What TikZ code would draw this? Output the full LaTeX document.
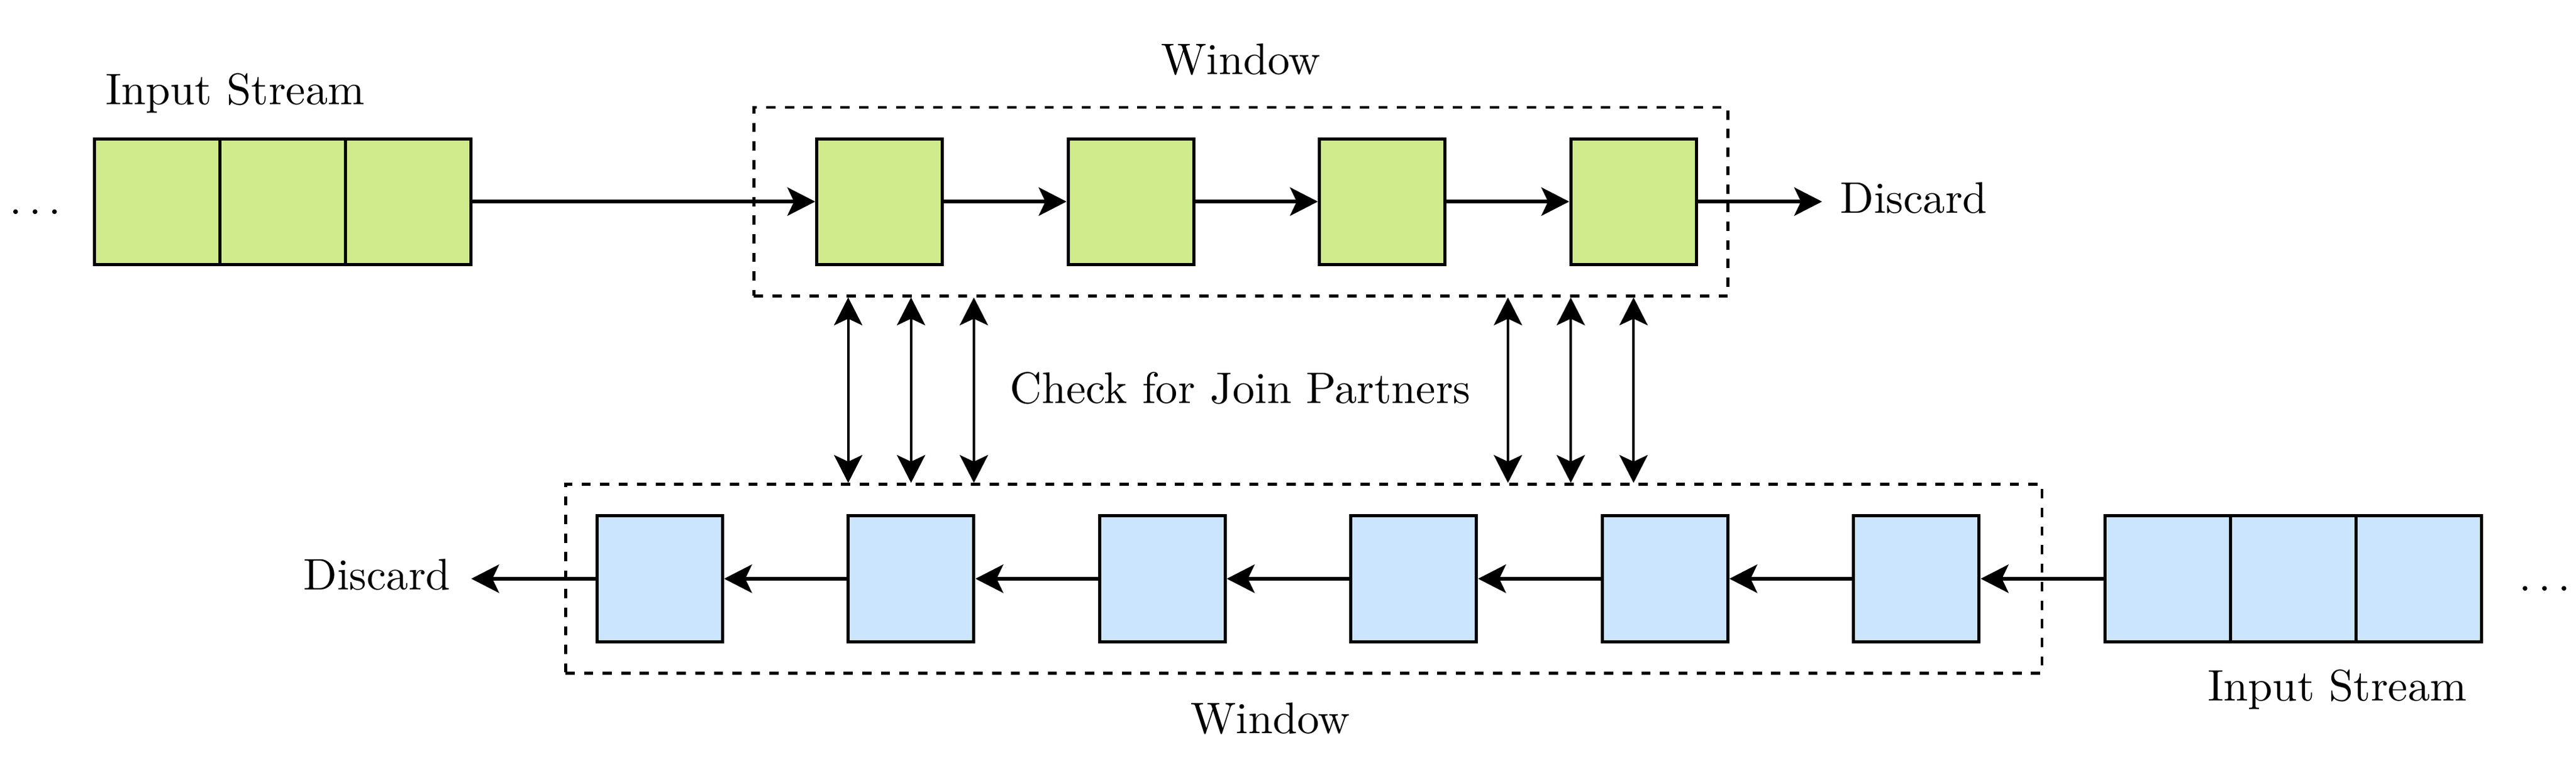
\documentclass[tikz,border=0pt]{standalone}
\usetikzlibrary{arrows.meta}
\definecolor{gfill}{RGB}{207,235,139}
\definecolor{bfill}{RGB}{204,229,255}
\tikzset{
  cell/.style={draw, line width=0.7pt, minimum size=1cm, inner sep=0pt},
  gcell/.style={cell, fill=gfill},
  bcell/.style={cell, fill=bfill},
  tipstyle/.tip={Stealth[length=6.3pt,width=6.4pt,inset=1.5pt]},
  flow/.style={line width=0.8pt, -tipstyle},
  probe/.style={line width=0.6pt, tipstyle-tipstyle},
  winbox/.style={draw, line width=0.7pt, dash pattern=on 2.1pt off 2.1pt, inner sep=0pt},
  lbl/.style={inner sep=0pt, anchor=base},
}
\begin{document}
\begin{tikzpicture}
\useasboundingbox (0,-1.589) rectangle (20.5,4.604);
% windows
\node[winbox, minimum width=7.75cm, minimum height=1.5cm] (wa) at (9.875,3) {};
\node[winbox, minimum width=11.75cm, minimum height=1.5cm] (wb) at (10.375,0) {};
% top input stream
\node[gcell] (s1) at (1.25,3) {};
\node[gcell] (s2) at (2.25,3) {};
\node[gcell] (s3) at (3.25,3) {};
% top window cells
\node[gcell] (g1) at (7,3) {};
\node[gcell] (g2) at (9,3) {};
\node[gcell] (g3) at (11,3) {};
\node[gcell] (g4) at (13,3) {};
% bottom window cells
\node[bcell] (b1) at (5.25,0) {};
\node[bcell] (b2) at (7.25,0) {};
\node[bcell] (b3) at (9.25,0) {};
\node[bcell] (b4) at (11.25,0) {};
\node[bcell] (b5) at (13.25,0) {};
\node[bcell] (b6) at (15.25,0) {};
% bottom input stream
\node[bcell] (t1) at (17.25,0) {};
\node[bcell] (t2) at (18.25,0) {};
\node[bcell] (t3) at (19.25,0) {};
% labels
\node[lbl] (inA) at (1.87,3.77) {Input Stream};
\node[lbl] (winA) at (9.875,4.013) {Window};
\node[lbl] (check) at (9.87,1.393) {Check for Join Partners};
\node[lbl] (winB) at (10.11,-1.23) {Window};
\node[lbl] (inB) at (18.6,-0.973) {Input Stream};
\node[lbl] (discA) at (15.23,2.909) {Discard};
\node[lbl] (discB) at (3.0,-0.087) {Discard};
\node[inner sep=0pt, anchor=base west] (dotsA) at (0.07,2.90) {$\ldots$};
\node[inner sep=0pt, anchor=base west] (dotsB) at (20.04,-0.10) {$\ldots$};
% free ends
\coordinate (dA) at (14.5,3);
\coordinate (dB) at (3.75,0);
% top flow
\draw[flow] (s3.east) -- (g1.west);
\draw[flow] (g1.east) -- (g2.west);
\draw[flow] (g2.east) -- (g3.west);
\draw[flow] (g3.east) -- (g4.west);
\draw[flow] (g4.east) -- (dA);
% bottom flow
\draw[flow] (t1.west) -- (b6.east);
\draw[flow] (b6.west) -- (b5.east);
\draw[flow] (b5.west) -- (b4.east);
\draw[flow] (b4.west) -- (b3.east);
\draw[flow] (b3.west) -- (b2.east);
\draw[flow] (b2.west) -- (b1.east);
\draw[flow] (b1.west) -- (dB);
% probes
\foreach \i/\x in {1/6.75,2/7.25,3/7.75,4/12,5/12.5,6/13}{
  \coordinate (p\i) at (\x,2.25);
  \draw[probe] (p\i |- wa.south) -- (p\i |- wb.north);
}
\end{tikzpicture}
\end{document}
